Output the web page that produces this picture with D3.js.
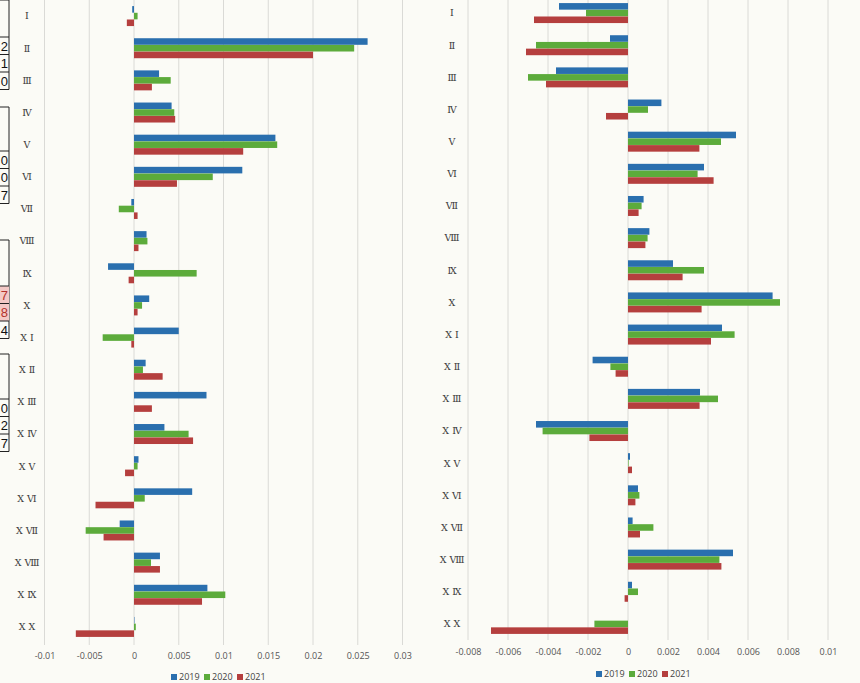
<!DOCTYPE html>
<html><head><meta charset="utf-8">
<script src="https://cdn.jsdelivr.net/npm/d3@7"></script>
<style>
html,body{margin:0;padding:0;background:#fbfbf6;}
svg{display:block;}
</style></head>
<body>
<svg id="c" width="860" height="683"></svg>
<script>
const categories = ["Ⅰ","Ⅱ","Ⅲ","Ⅳ","Ⅴ","Ⅵ","Ⅶ","Ⅷ","Ⅸ","Ⅹ","Ⅹ Ⅰ","Ⅹ Ⅱ","Ⅹ Ⅲ","Ⅹ Ⅳ","Ⅹ Ⅴ","Ⅹ Ⅵ","Ⅹ Ⅶ","Ⅹ Ⅷ","Ⅹ Ⅸ","Ⅹ Ⅹ"];
const years = ["2019","2020","2021"];

// left panel
const left2019 = [-0.0002,0.0261,0.0028,0.0042,0.0158,0.0121,-0.0003,0.0014,-0.0029,0.0017,0.0050,0.0013,0.0081,0.0034,0.0005,0.0065,-0.0016,0.0029,0.0082,0.00005];
const left2020 = [0.0004,0.0246,0.0041,0.0045,0.0160,0.0088,-0.0017,0.0015,0.0070,0.0009,-0.0035,0.0010,0,0.0061,0.0004,0.0012,-0.0054,0.0019,0.0102,0.0002];
const left2021 = [-0.0008,0.0200,0.0020,0.0046,0.0122,0.0048,0.0004,0.0005,-0.0006,0.0004,-0.0003,0.0032,0.0020,0.0066,-0.0010,-0.0043,-0.0034,0.0029,0.0076,-0.0065];
const leftTicks = [-0.01,-0.005,0,0.005,0.01,0.015,0.02,0.025,0.03];

// right panel
const right2019 = [-0.00345,-0.0009,-0.0036,0.00167,0.0054,0.0038,0.00078,0.00107,0.00225,0.00723,0.0047,-0.00177,0.0036,-0.0046,0.0001,0.0005,0.00023,0.00525,0.0002,0];
const right2020 = [-0.0021,-0.0046,-0.0050,0.0010,0.00465,0.00348,0.00068,0.00098,0.0038,0.0076,0.00533,-0.00088,0.0045,-0.00427,0.00003,0.00057,0.00127,0.00457,0.0005,-0.00168];
const right2021 = [-0.0047,-0.0051,-0.0041,-0.0011,0.00357,0.00428,0.00053,0.00087,0.00273,0.00368,0.00415,-0.00062,0.00358,-0.00193,0.0002,0.00037,0.0006,0.00467,-0.00017,-0.00685];
const rightTicks = [-0.008,-0.006,-0.004,-0.002,0,0.002,0.004,0.006,0.008,0.01];

// cropped table fragments at the left edge
const fragDigits = [["2","1","0"],["0","0","7"],["7","8","4"],["0","2","7"]];
const fragHighlight = [[false,false,false],[false,false,false],[true,true,false],[false,false,false]];

const colors = {"2019":"#2a6fae","2020":"#5cab3b","2021":"#b53f3e"};

const svg = d3.select("#c");
svg.append("rect").attr("width",860).attr("height",683).attr("fill","#fbfbf6");

function panel(cfg){
  const g = svg.append("g");
  const x = d3.scaleLinear().domain(cfg.domain).range(cfg.xr);
  const y0 = d3.scaleBand().domain(categories).range(cfg.yr).padding(0);
  const bw = y0.bandwidth();
  const y1 = d3.scaleBand().domain(years).range([bw*0.185, bw*0.815]).padding(0.02);

  g.append("g").selectAll("line").data(cfg.ticks).join("line")
    .attr("x1",d=>x(d)).attr("x2",d=>x(d))
    .attr("y1",0).attr("y2",cfg.gridBottom)
    .attr("stroke","#d6d6d2").attr("stroke-width",0.9);

  const series = years.map((yr,i)=>({yr, vals: cfg.series[i]}));
  series.forEach(s=>{
    g.append("g").selectAll("rect").data(s.vals.map((v,i)=>({v,c:categories[i]}))).join("rect")
      .attr("x",d=>Math.min(x(0),x(d.v)))
      .attr("width",d=>Math.abs(x(d.v)-x(0)))
      .attr("y",d=>y0(d.c)+y1(s.yr))
      .attr("height",y1.bandwidth())
      .attr("fill",colors[s.yr]);
  });

  g.append("g").selectAll("text").data(categories).join("text")
    .attr("x",cfg.labelX).attr("y",d=>y0(d)+bw/2)
    .attr("dy","0.35em").attr("text-anchor","middle")
    .attr("font-family","'DejaVu Serif', serif").attr("font-size",9.5)
    .attr("fill","#3a3a3a")
    .text(d=>d);

  const axis = d3.axisBottom(x).tickValues(cfg.ticks).tickSize(0).tickPadding(0)
    .tickFormat(d=>String(+d.toFixed(3)));
  const ax = g.append("g").attr("transform",`translate(0,${cfg.tickY})`).call(axis);
  ax.select(".domain").remove();
  ax.selectAll("text").attr("font-family","'Open Sans', sans-serif").attr("font-size",9)
    .attr("fill","#555").attr("dy","0");

  const lg = g.append("g").attr("transform",`translate(${cfg.legendX},${cfg.legendY})`);
  years.forEach((yr,i)=>{
    const it = lg.append("g").attr("transform",`translate(${i*33},0)`);
    it.append("rect").attr("x",0).attr("y",-5).attr("width",6).attr("height",6).attr("fill",colors[yr]);
    it.append("text").attr("x",8).attr("y",1).attr("font-family","'Open Sans', sans-serif")
      .attr("font-size",9).attr("fill","#444").text(yr);
  });
}

panel({domain:[-0.01,0.03], xr:[44.5,402.5], yr:[0,643], ticks:leftTicks,
  series:[left2019,left2020,left2021], labelX:27, tickY:659, gridBottom:645,
  legendX:171, legendY:679});
panel({domain:[-0.008,0.01], xr:[468,828], yr:[-3,640], ticks:rightTicks,
  series:[right2019,right2020,right2021], labelX:452, tickY:655, gridBottom:640,
  legendX:596, legendY:676});

const fragTops = [37,151,286,399];
const fg = svg.append("g");
fragDigits.forEach((grp,gi)=>{
  const top = fragTops[gi];
  const boxTop = [0,107,240,354][gi];
  fg.append("line").attr("x1",0).attr("x2",9).attr("y1",boxTop).attr("y2",boxTop).attr("stroke","#222").attr("stroke-width",1);
  fg.append("line").attr("x1",9).attr("x2",9).attr("y1",boxTop).attr("y2",top+17.5*3).attr("stroke","#222").attr("stroke-width",1);
  grp.forEach((dg,i)=>{
    const yy = top+i*17.5;
    if(fragHighlight[gi][i]) fg.append("rect").attr("x",0).attr("y",yy).attr("width",9).attr("height",17.5).attr("fill","#f3c9c6");
    fg.append("line").attr("x1",0).attr("x2",9).attr("y1",yy).attr("y2",yy).attr("stroke","#222").attr("stroke-width",1);
    fg.append("text").attr("x",8).attr("y",yy+9).attr("dy","0.36em").attr("text-anchor","end")
      .attr("font-family","'Liberation Sans', sans-serif").attr("font-size",13)
      .attr("fill",fragHighlight[gi][i]?"#b3312c":"#111").text(dg);
  });
  fg.append("line").attr("x1",0).attr("x2",9).attr("y1",top+17.5*3).attr("y2",top+17.5*3).attr("stroke","#222").attr("stroke-width",1);
});
</script>
</body></html>
